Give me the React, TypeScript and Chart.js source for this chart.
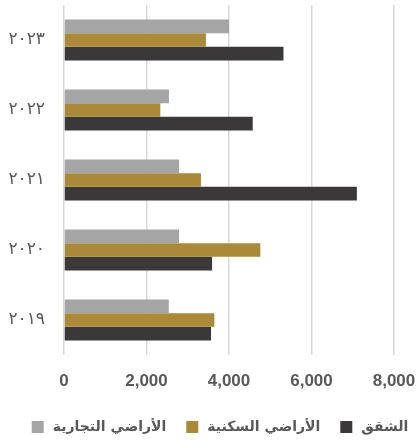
import React, { useEffect, useRef } from "react";
import { Chart, registerables } from "chart.js";

Chart.register(...registerables);

// Years, top to bottom
const years = ["٢٠٢٣", "٢٠٢٢", "٢٠٢١", "٢٠٢٠", "٢٠١٩"];

const seriesNames = ["الأراضي التجارية", "الأراضي السكنية", "الشقق"];
const commercialLand = [4000, 2545, 2790, 2790, 2540];
const residentialLand = [3440, 2335, 3320, 4760, 3645];
const apartments = [5320, 4575, 7100, 3590, 3565];
const seriesColors = ["#a5a5a5", "#aa8939", "#3b3839"];

const xTicks = [0, 2000, 4000, 6000, 8000];

const TEXT_COLOR = "#595959";
const LATIN_FONT = 'Arial, "Liberation Sans", "DejaVu Sans", sans-serif';
const ARABIC_FONT = '"DejaVu Sans", Arial, sans-serif';

// Legend row under the axis: square swatch on the left of each name
const bottomLegend = {
  id: "bottomLegend",
  afterDraw(chart: any) {
    const ctx = chart.ctx as CanvasRenderingContext2D;
    const box = 12;
    const gap = 9;
    const spacing = 20;
    const cy = 427;
    ctx.save();
    ctx.font = `bold 14px ${ARABIC_FONT}`;
    ctx.textBaseline = "middle";
    ctx.textAlign = "left";
    const items = chart.data.datasets.map((d: any) => ({
      label: d.label as string,
      color: d.backgroundColor as string,
      w: ctx.measureText(d.label).width,
    }));
    const total =
      items.reduce((s: number, it: any) => s + box + gap + it.w, 0) +
      spacing * (items.length - 1);
    let x = 220 - total / 2;
    for (const it of items) {
      ctx.fillStyle = it.color;
      ctx.fillRect(x, cy - box / 2, box, box);
      ctx.fillStyle = TEXT_COLOR;
      ctx.fillText(it.label, x + box + gap, cy);
      x += box + gap + it.w + spacing;
    }
    ctx.restore();
  },
};

export default function App() {
  const canvasRef = useRef<HTMLCanvasElement | null>(null);

  useEffect(() => {
    if (!canvasRef.current) return;
    const values = [commercialLand, residentialLand, apartments];
    const chart = new Chart(canvasRef.current, {
      type: "bar",
      data: {
        labels: years,
        datasets: seriesNames.map((name, i) => ({
          label: name,
          data: values[i],
          backgroundColor: seriesColors[i],
          borderWidth: 0,
          barPercentage: 1,
          categoryPercentage: 0.585,
        })),
      },
      plugins: [bottomLegend],
      options: {
        indexAxis: "y",
        responsive: false,
        animation: false,
        layout: {
          autoPadding: false,
          padding: { top: 5, right: 25, bottom: 28, left: 0 },
        },
        plugins: {
          legend: { display: false },
          tooltip: { enabled: false },
        },
        scales: {
          x: {
            min: 0,
            max: 8000,
            afterBuildTicks: (scale: any) => {
              scale.ticks = xTicks.map((v) => ({ value: v }));
            },
            afterFit: (scale: any) => {
              scale.height = 58;
              scale.paddingLeft = 0;
              scale.paddingRight = 0;
            },
            border: { display: false },
            grid: {
              color: "#d9d9d9",
              lineWidth: 1.5,
              drawTicks: false,
            },
            ticks: {
              padding: 16,
              color: TEXT_COLOR,
              font: { family: LATIN_FONT, size: 17, weight: "bold" },
              callback: (v: any) => Number(v).toLocaleString("en-US"),
            },
          },
          y: {
            afterFit: (scale: any) => {
              scale.width = 64;
              scale.paddingTop = 0;
              scale.paddingBottom = 0;
            },
            border: { display: false },
            grid: { display: false, drawTicks: false },
            ticks: {
              padding: 19,
              color: TEXT_COLOR,
              font: { family: ARABIC_FONT, size: 17, weight: "normal" },
            },
          },
        },
      },
    } as any);
    return () => chart.destroy();
  }, []);

  return (
    <div style={{ position: "absolute", left: 0, top: 0, width: 419, height: 441, background: "#ffffff" }}>
      <canvas ref={canvasRef} width={419} height={441} style={{ display: "block" }} />
    </div>
  );
}
